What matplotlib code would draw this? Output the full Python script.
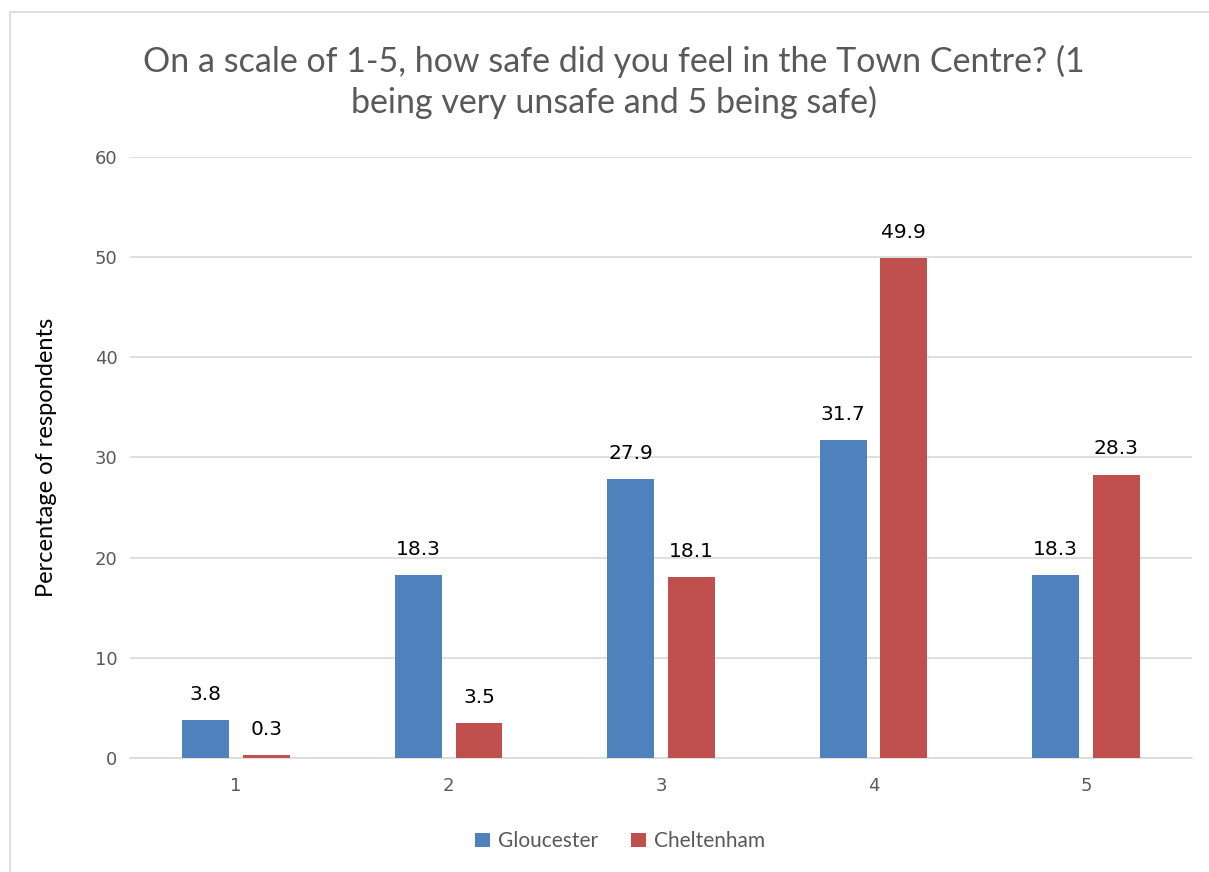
import numpy as np
import matplotlib.pyplot as plt
from matplotlib.patches import Rectangle

# Survey results: how safe respondents felt in the Town Centre
categories = ["1", "2", "3", "4", "5"]
gloucester = [3.8, 18.3, 27.9, 31.7, 18.3]
cheltenham = [0.3, 3.5, 18.1, 49.9, 28.3]
yticks = [0, 10, 20, 30, 40, 50, 60]

blue = "#4F81BD"
red = "#C0504D"
grid_col = "#D9D9D9"
text_gray = "#595959"

fig = plt.figure(figsize=(12.09, 8.72), dpi=100)
ax = fig.add_axes([0.1075, 0.1307, 0.8785, 0.6893])

# chart area border (right/bottom run off the picture)
fig.patches.append(Rectangle((10 / 1209, -0.05), 1.2, (872 - 12) / 872 + 0.05,
                             transform=fig.transFigure, fill=False,
                             edgecolor=grid_col, linewidth=1.2))

x = np.arange(1, len(categories) + 1)
w = 0.221
off = 0.143
b1 = ax.bar(x - off, gloucester, w, color=blue, label="Gloucester", zorder=3)
b2 = ax.bar(x + off, cheltenham, w, color=red, label="Cheltenham", zorder=3)

for bars, vals in ((b1, gloucester), (b2, cheltenham)):
    for rect, v in zip(bars, vals):
        ax.text(rect.get_x() + rect.get_width() / 2, v + 1.6, f"{v}",
                ha="center", va="bottom", fontsize=14.5, color="black",
                family="DejaVu Sans")

ax.set_xlim(0.5, 5.5)
ax.set_ylim(0, 60)
ax.set_yticks(yticks)
ax.set_xticks(x)
ax.set_xticklabels(categories)
ax.yaxis.grid(True, color=grid_col, linewidth=1.2, zorder=0)
for s in ["top", "right", "left"]:
    ax.spines[s].set_visible(False)
ax.spines["bottom"].set_color(grid_col)
ax.spines["bottom"].set_linewidth(1.2)
ax.tick_params(axis="both", length=0, labelsize=13, labelcolor=text_gray)
ax.tick_params(axis="y", pad=9)
ax.tick_params(axis="x", pad=14)

ax.set_ylabel("Percentage of respondents", fontsize=17, family="Lato",
              color="black", labelpad=27)

fig.text(0.508, 0.906, "On a scale of 1-5, how safe did you feel in the Town Centre? (1\nbeing very unsafe and 5 being safe)",
         ha="center", va="center", fontsize=24.5, family="Lato",
         color=text_gray, linespacing=1.3)

leg = fig.legend(loc="center", bbox_to_anchor=(0.513, 0.035), ncol=2,
                 frameon=False, fontsize=15, handlelength=0.7, handleheight=0.7,
                 handletextpad=0.4, columnspacing=1.6)
for t in leg.get_texts():
    t.set_color(text_gray)
    t.set_family("Lato")

fig.savefig("out.png", dpi=100)
